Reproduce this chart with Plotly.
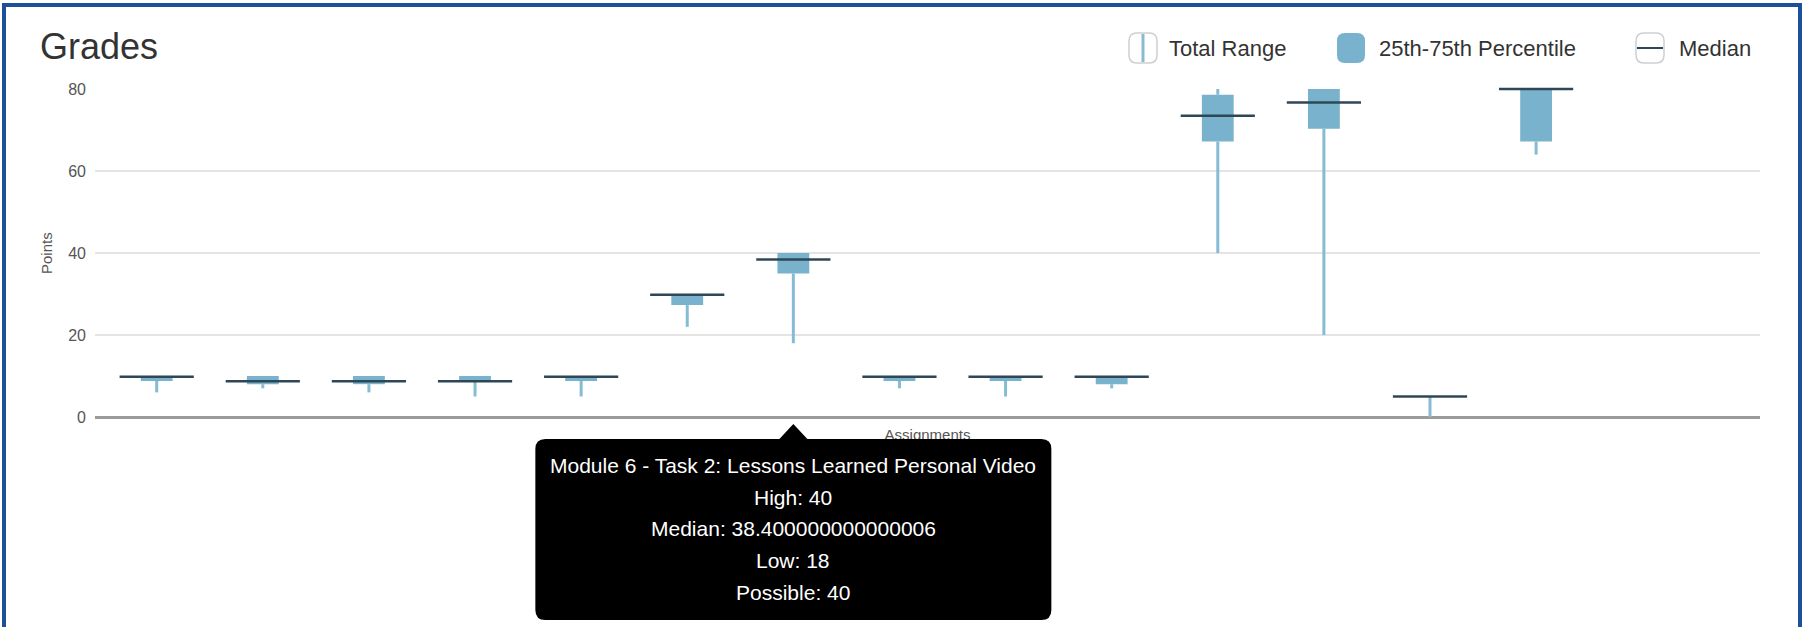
import plotly.graph_objects as go

# ---------------- data ----------------
assignments = [
    "Assignment 1", "Assignment 2", "Assignment 3", "Assignment 4", "Assignment 5",
    "Assignment 6", "Module 6 - Task 2: Lessons Learned Personal Video",
    "Assignment 8", "Assignment 9", "Assignment 10", "Assignment 11",
    "Assignment 12", "Assignment 13", "Assignment 14",
]
low      = [6,   7,   6,   5,   5,   22,   18,                 7,   5,   7,   40,   20,   0, 64]
q1       = [8.8, 8,   8,   8.8, 8.8, 27.3, 35,                 8.8, 8.8, 8,   67.2, 70.3, 5, 67.2]
median   = [9.8, 8.7, 8.7, 8.7, 9.8, 29.8, 38.400000000000006, 9.8, 9.8, 9.8, 73.5, 76.7, 5, 80]
q3       = [10,  10,  10,  10,  10,  30,   40,                 10,  10,  10,  78.6, 80,   5, 80]
high     = [10,  10,  10,  10,  10,  30,   40,                 10,  10,  10,  80,   80,   5, 80]
possible = [10,  10,  10,  10,  10,  30,   40,                 10,  10,  10,  80,   80,   5, 80]
y_ticks  = [0, 20, 40, 60, 80]
hovered  = 6

# ---------------- style ----------------
FONT = "Liberation Sans, Arial, Helvetica, sans-serif"
BOX = "#79b2cc"
WHISKER = "#86bbd4"
MED = "#2e4756"
BORDER = "#1d4f9a"

W, H = 1807, 627
ML, MR, MT, MB = 95, 47, 89, 210
PW, PH = W - ML - MR, H - MT - MB
X0, X1 = -0.5815, 15.11


def px(xpix):
    return (xpix - ML) / PW


def py(ypix):
    return (H - MB - ypix) / PH


def rrect(w, h, r):
    x0, x1, y0, y1 = -w / 2, w / 2, -h / 2, h / 2
    return (f"M {x0 + r},{y1} L {x1 - r},{y1} Q {x1},{y1} {x1},{y1 - r} "
            f"L {x1},{y0 + r} Q {x1},{y0} {x1 - r},{y0} L {x0 + r},{y0} "
            f"Q {x0},{y0} {x0},{y0 + r} L {x0},{y1 - r} Q {x0},{y1} {x0 + r},{y1} Z")


n = len(assignments)
xs = list(range(n))

# whiskers: low->q1 and q3->high
wx, wy = [], []
for i in xs:
    wx += [i, i, None, i, i, None]
    wy += [low[i], q1[i], None, q3[i], high[i], None]

fig = go.Figure()
fig.add_trace(go.Bar(
    x=xs, y=[q3[i] - q1[i] for i in xs], base=q1, width=0.3,
    marker=dict(color=BOX, line=dict(width=0)), hoverinfo="skip", showlegend=False))
fig.add_trace(go.Scatter(
    x=wx, y=wy, mode="lines", line=dict(color=WHISKER, width=3),
    cliponaxis=False, hoverinfo="skip", showlegend=False))
fig.add_trace(go.Scatter(
    x=xs, y=median, mode="markers",
    marker=dict(symbol="line-ew", size=53, color=MED, line=dict(color=MED, width=2.5)),
    cliponaxis=False, hoverinfo="skip", showlegend=False))

shapes = []
annotations = []

# outer blue frame
shapes.append(dict(type="path", xref="paper", yref="paper", xsizemode="pixel", ysizemode="pixel",
                   xanchor=0, yanchor=0, layer="above",
                   path=f"M {4-ML},{-(H-MB)-20} L {4-ML},{H-MB-5} L {1800-ML},{H-MB-5} L {1800-ML},{-(H-MB)-20}",
                   line=dict(color=BORDER, width=4)))

# x-axis title (drawn as a shape label so that the tooltip can cover it)
shapes.append(dict(type="rect", xref="paper", yref="paper",
                   x0=0.44, x1=0.56, y0=py(442), y1=py(424), layer="above",
                   line=dict(width=0), fillcolor="rgba(255,255,255,0)",
                   label=dict(text="Assignments", textposition="middle center",
                              font=dict(family=FONT, size=15, color="#555"))))

# tooltip
xa = (hovered - X0) / (X1 - X0)
hw, top, bot, r = 258, -22, -203, 10
tip_path = (f"M {-hw + r},{top} L -14,{top} L 0,-7 L 14,{top} L {hw - r},{top} "
            f"Q {hw},{top} {hw},{top - r} L {hw},{bot + r} Q {hw},{bot} {hw - r},{bot} "
            f"L {-hw + r},{bot} Q {-hw},{bot} {-hw},{bot + r} L {-hw},{top - r} "
            f"Q {-hw},{top} {-hw + r},{top} Z")
shapes.append(dict(type="path", xref="paper", yref="paper", xsizemode="pixel", ysizemode="pixel",
                   xanchor=xa, yanchor=0, path=tip_path, layer="above",
                   fillcolor="black", line=dict(width=0)))
tip_lines = [
    assignments[hovered],
    f"High: {high[hovered]}",
    f"Median: {median[hovered]}",
    f"Low: {low[hovered]}",
    f"Possible: {possible[hovered]}",
]
for k, t in enumerate(tip_lines):
    annotations.append(dict(text=t, xref="paper", yref="paper", x=xa, y=0,
                            yshift=-(48.6 + 31.6 * k), xanchor="center", yanchor="middle",
                            showarrow=False, font=dict(family=FONT, size=21, color="white")))

# custom legend
LY = 48
icon_w, icon_h = 28, 30
for cx in (1143, 1650):
    shapes.append(dict(type="path", xref="paper", yref="paper", xsizemode="pixel", ysizemode="pixel",
                       xanchor=px(cx), yanchor=py(LY), path=rrect(icon_w, icon_h, 8),
                       fillcolor="white", line=dict(color="#cfcfcf", width=1.5)))
shapes.append(dict(type="line", xref="paper", yref="paper", xsizemode="pixel", ysizemode="pixel",
                   xanchor=px(1143), yanchor=py(LY), x0=0, x1=0, y0=-icon_h / 2 + 1, y1=icon_h / 2 - 1,
                   line=dict(color=WHISKER, width=3)))
shapes.append(dict(type="line", xref="paper", yref="paper", xsizemode="pixel", ysizemode="pixel",
                   xanchor=px(1650), yanchor=py(LY), x0=-icon_w / 2 + 1, x1=icon_w / 2 - 1, y0=0, y1=0,
                   line=dict(color=MED, width=2)))
shapes.append(dict(type="path", xref="paper", yref="paper", xsizemode="pixel", ysizemode="pixel",
                   xanchor=px(1351), yanchor=py(LY), path=rrect(icon_w, icon_h, 8),
                   fillcolor=BOX, line=dict(width=0)))
for t, lx in (("Total Range", 1167), ("25th-75th Percentile", 1377), ("Median", 1677)):
    annotations.append(dict(text=t, xref="paper", yref="paper", x=px(lx), y=py(LY),
                            xanchor="left", yanchor="middle", showarrow=False,
                            font=dict(family=FONT, size=22, color="#333")))

# y-axis title
annotations.append(dict(text="Points", xref="paper", yref="paper", x=px(46), y=0.5, textangle=-90,
                        xanchor="center", yanchor="middle", showarrow=False,
                        font=dict(family=FONT, size=15, color="#555")))

fig.update_layout(
    width=W, height=H,
    margin=dict(l=ML, r=MR, t=MT, b=MB, autoexpand=False),
    paper_bgcolor="white", plot_bgcolor="white",
    showlegend=False, hovermode=False, barmode="overlay",
    font=dict(family=FONT, color="#555"),
    title=dict(text="Grades", xref="container", yref="container", x=40 / W, y=1 - 46 / H,
               xanchor="left", yanchor="middle", font=dict(family=FONT, size=36, color="#333")),
    xaxis=dict(range=[X0, X1], showticklabels=False, showgrid=False, zeroline=False,
               showline=False, ticks="", fixedrange=True),
    yaxis=dict(range=[0, 80], tickvals=y_ticks, showgrid=True, gridcolor="#e4e4e4", gridwidth=2,
               zeroline=True, zerolinecolor="#9b9b9b", zerolinewidth=3, showline=False,
               ticks="", ticklabelstandoff=8, tickfont=dict(family=FONT, size=16, color="#555"),
               fixedrange=True),
    shapes=shapes, annotations=annotations,
)

fig.write_html("out.html")
